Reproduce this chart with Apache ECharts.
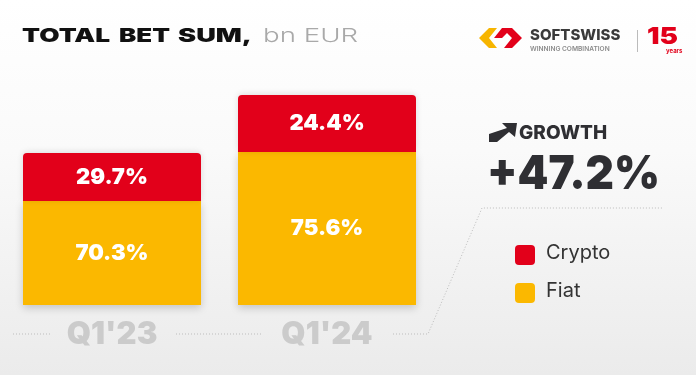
<!DOCTYPE html>
<html><head><meta charset="utf-8">
<script src="https://cdn.jsdelivr.net/npm/echarts@6/dist/echarts.min.js"></script>
<style>html,body{margin:0;padding:0;}#c{width:696px;height:375px;}</style>
</head><body><div id="c"></div>
<script>
// ---- data ----
var categories = ["Q1'23", "Q1'24"];
var cryptoShare = [29.7, 24.4];     // % labels
var fiatShare = [70.3, 75.6];       // % labels
var cryptoBarHeight = [48, 57];     // bar segment heights as drawn
var fiatBarHeight = [104, 153];
var growthText = '+47.2%';
var seriesNames = ['Fiat', 'Crypto'];

var RED = '#e2001a', YEL = '#fbb800';
var font = 'Inter';
var mctx = document.createElement('canvas').getContext('2d');
function fitText(txt, x, y, size, weight, color, targetW) {
  mctx.font = weight + ' ' + size + 'px ' + font;
  var w = mctx.measureText(txt).width;
  return {type:'text', x:x, y:y, originX:0, originY:0, scaleX: targetW / w,
    style:{text:txt, fontFamily:font, fontWeight:weight, fontSize:size, fill:color, align:'left', verticalAlign:'middle'}};
}
var chart = echarts.init(document.getElementById('c'));
chart.setOption({
  backgroundColor: {type:'linear', x:0, y:0, x2:0, y2:1, colorStops:[{offset:0,color:'#ffffff'},{offset:0.4,color:'#fafafa'},{offset:1,color:'#ebebeb'}]},
  animation: false,
  grid: {left: 4.5, width: 430, top: 95, bottom: 70},
  xAxis: {type:'category', data: categories, axisLine:{show:false}, axisTick:{show:false},
    axisLabel:{color:'#cbcbcb', fontFamily:font, fontWeight:900, fontSize:31, margin:14, lineHeight:32}},
  yAxis: {type:'value', min:0, max:210, show:false},
  series: [
    {name: seriesNames[0], type:'bar', stack:'t', data: fiatBarHeight, barWidth: 178,
     itemStyle:{color:YEL, shadowBlur:8, shadowColor:'rgba(0,0,0,0.18)', shadowOffsetY:3},
     label:{show:true, position:'inside', color:'#fff', fontFamily:font, fontWeight:900, fontSize:22,
       formatter:function(p){return fiatShare[p.dataIndex].toFixed(1)+'%';}}},
    {name: seriesNames[1], type:'bar', stack:'t', data: cryptoBarHeight, barWidth: 178,
     itemStyle:{color:RED, borderRadius:[4,4,0,0], shadowBlur:6, shadowColor:'rgba(0,0,0,0.12)', shadowOffsetY:-1},
     label:{show:true, position:'inside', color:'#fff', fontFamily:font, fontWeight:900, fontSize:22,
       formatter:function(p){return cryptoShare[p.dataIndex].toFixed(1)+'%';}}}
  ],
  graphic: [
    fitText('TOTAL', 22, 36, 19, 900, '#111', 88),
    fitText('BET', 119, 36, 19, 900, '#111', 51),
    fitText('SUM,', 178, 36, 19, 900, '#111', 74),
    fitText('bn EUR', 263, 36, 19, 300, '#a9a9a9', 95),
    // logo
    {type:'polygon', shape:{points:[[489,28],[497,28],[489,38],[497,48],[489,48],[479,38]]}, style:{fill:'#f7b500'}},
    {type:'polygon', shape:{points:[[494,38],[502,28],[512,28],[522,38],[512,48],[504,48],[512,38],[507,33],[502,38]]}, style:{fill:'#e2001a'}},
    {type:'text', left:530, top:28, style:{text:'SOFTSWISS', fontFamily:font, fontWeight:800, fontSize:15, fill:'#3a3a3a'}},
    {type:'text', left:530, top:46, style:{text:'WINNING COMBINATION', fontFamily:font, fontWeight:600, fontSize:6.6, fill:'#8a8a8a'}},
    {type:'rect', shape:{x:637, y:30, width:1, height:22}, style:{fill:'#bbbbbb'}},
    fitText('15', 647, 37.5, 23, 900, '#e2001a', 31),
    {type:'text', left:666, top:48, style:{text:'years', fontFamily:font, fontWeight:700, fontSize:6, fill:'#e2001a'}},
    // growth
    {type:'polygon', shape:{points:[[489,142],[497,142],[509,132],[515,137],[517,123],[502,123],[507,128],[489,134]]}, style:{fill:'#2f2f33'}},
    {type:'text', left:519, top:124, style:{text:'GROWTH', fontFamily:font, fontWeight:800, fontSize:19, fill:'#2f2f33'}},
    fitText(growthText, 487, 175, 47, 900, '#2f2f33', 173),
    // dotted guide
    {type:'polyline', shape:{points:[[13,334],[50,334]]}, style:{stroke:'#bdbdbd', lineWidth:1, lineDash:[1,2], fill:null}},
    {type:'polyline', shape:{points:[[176,334],[263,334]]}, style:{stroke:'#bdbdbd', lineWidth:1, lineDash:[1,2], fill:null}},
    {type:'polyline', shape:{points:[[393,334],[428,334],[482,208],[663,208]]}, style:{stroke:'#bdbdbd', lineWidth:1, lineDash:[1,2], fill:null}},
    // legend
    {type:'rect', shape:{x:515, y:245, width:20, height:20, r:4}, style:{fill:RED}},
    {type:'text', left:546, top:243, style:{text:'Crypto', fontFamily:font, fontWeight:400, fontSize:20, fill:'#333'}},
    {type:'rect', shape:{x:515, y:283, width:20, height:20, r:4}, style:{fill:YEL}},
    {type:'text', left:546, top:281, style:{text:'Fiat', fontFamily:font, fontWeight:400, fontSize:20, fill:'#333'}}
  ]
});
</script></body></html>
